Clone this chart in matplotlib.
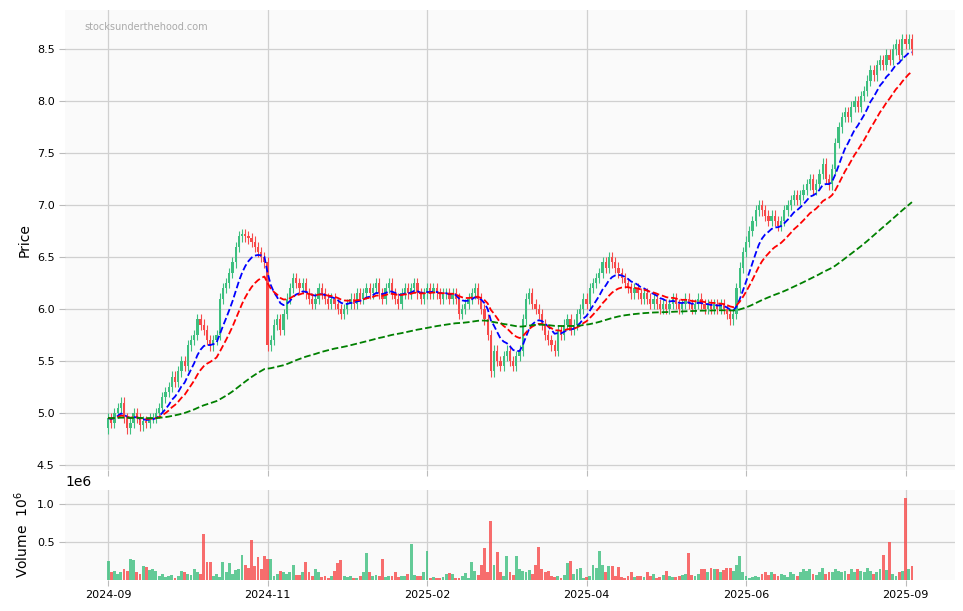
import numpy as np
import pandas as pd
import matplotlib
matplotlib.use("Agg")
import matplotlib.pyplot as plt

closes = [
4.95,4.90,5.00,5.05,5.10,4.95,4.85,4.90,5.00,4.95,
4.88,4.92,4.90,4.95,4.95,5.00,5.05,5.15,5.20,5.25,
5.35,5.30,5.40,5.50,5.45,5.65,5.70,5.75,5.90,5.85,
5.80,5.70,5.65,5.70,5.75,6.10,6.20,6.25,6.35,6.45,
6.60,6.70,6.72,6.70,6.68,6.65,6.60,6.55,6.50,6.45,
5.65,5.70,5.85,5.90,5.80,5.95,6.10,6.20,6.30,6.25,
6.20,6.25,6.15,6.10,6.05,6.10,6.20,6.15,6.10,6.05,
6.10,6.05,6.00,5.95,6.00,6.05,6.10,6.05,6.15,6.10,
6.15,6.20,6.15,6.20,6.25,6.15,6.10,6.20,6.25,6.15,
6.10,6.05,6.15,6.20,6.15,6.20,6.25,6.15,6.10,6.15,
6.20,6.15,6.20,6.15,6.10,6.15,6.15,6.10,6.15,6.10,
5.95,6.00,6.05,6.10,6.15,6.20,6.10,6.00,5.90,5.75,
5.40,5.60,5.50,5.45,5.55,5.60,5.50,5.45,5.55,5.60,
5.90,6.10,6.15,6.05,6.00,5.95,5.85,5.75,5.70,5.65,
5.60,5.80,5.75,5.85,5.90,5.80,5.85,5.95,6.00,6.10,
6.05,6.20,6.25,6.30,6.35,6.45,6.40,6.50,6.45,6.40,
6.35,6.30,6.25,6.20,6.15,6.20,6.15,6.10,6.15,6.10,
6.05,6.10,6.05,6.00,6.05,6.00,6.05,6.10,6.05,6.00,
6.05,6.10,6.05,6.00,6.05,6.10,6.05,6.00,6.05,6.00,
6.05,6.00,6.05,6.00,5.95,5.90,5.95,6.20,6.40,6.55,
6.65,6.75,6.85,6.95,7.00,6.95,6.90,6.85,6.90,6.85,
6.80,6.85,6.95,7.00,7.05,7.10,7.05,7.10,7.15,7.20,
7.25,7.15,7.20,7.30,7.40,7.25,7.20,7.35,7.60,7.75,
7.85,7.90,7.85,7.95,8.00,7.95,8.05,8.10,8.20,8.30,
8.25,8.35,8.40,8.35,8.45,8.40,8.50,8.55,8.45,8.60,
8.55,8.60,8.50]
first_open = 4.85

volumes = [
0.25,0.10,0.12,0.08,0.10,0.15,0.12,0.27,0.26,0.10,
0.08,0.18,0.17,0.13,0.14,0.12,0.05,0.08,0.04,0.05,
0.06,0.03,0.05,0.12,0.10,0.08,0.06,0.15,0.10,0.08,
0.60,0.24,0.23,0.05,0.08,0.04,0.24,0.10,0.22,0.08,
0.13,0.15,0.33,0.20,0.16,0.52,0.18,0.30,0.15,0.31,
0.27,0.27,0.05,0.08,0.12,0.10,0.08,0.10,0.20,0.07,
0.06,0.10,0.23,0.10,0.05,0.15,0.10,0.04,0.05,0.03,
0.05,0.12,0.22,0.26,0.05,0.04,0.05,0.03,0.02,0.05,
0.10,0.35,0.10,0.05,0.06,0.05,0.27,0.04,0.05,0.05,
0.10,0.04,0.05,0.05,0.08,0.47,0.06,0.05,0.05,0.10,
0.38,0.03,0.04,0.03,0.02,0.04,0.08,0.09,0.08,0.03,
0.02,0.05,0.09,0.03,0.23,0.12,0.07,0.20,0.42,0.10,
0.78,0.20,0.37,0.10,0.05,0.32,0.10,0.06,0.32,0.15,
0.12,0.10,0.13,0.08,0.20,0.43,0.15,0.10,0.12,0.05,
0.04,0.05,0.03,0.06,0.22,0.25,0.08,0.15,0.16,0.03,
0.04,0.05,0.20,0.16,0.38,0.20,0.10,0.18,0.19,0.05,
0.17,0.04,0.03,0.05,0.10,0.04,0.05,0.05,0.04,0.10,
0.05,0.08,0.03,0.04,0.06,0.12,0.05,0.04,0.04,0.05,
0.06,0.08,0.35,0.06,0.05,0.08,0.15,0.14,0.10,0.16,
0.14,0.15,0.10,0.13,0.16,0.16,0.12,0.20,0.31,0.10,
0.05,0.02,0.04,0.05,0.04,0.08,0.10,0.06,0.10,0.08,
0.05,0.08,0.06,0.04,0.10,0.08,0.05,0.10,0.15,0.12,
0.15,0.08,0.06,0.10,0.16,0.08,0.10,0.10,0.15,0.12,
0.10,0.12,0.08,0.15,0.10,0.14,0.12,0.10,0.16,0.12,
0.08,0.10,0.15,0.33,0.13,0.50,0.08,0.05,0.10,0.12,
1.07,0.15,0.18]

tick_pos = [0, 50, 100, 150, 200, 250]
tick_labels = ["2024-09", "2024-11", "2025-02", "2025-04", "2025-06", "2025-09"]

c = np.array(closes)
o = np.concatenate([[first_open], c[:-1]])
hi = np.maximum(o, c) + 0.05
lo = np.minimum(o, c) - 0.05
x = np.arange(len(c))
s = pd.Series(c)
ma_fast = s.ewm(span=10, adjust=False).mean()
ma_mid = s.ewm(span=20, adjust=False).mean()
ma_slow = s.ewm(span=120, adjust=False).mean()

GREEN = "#3dbf7f"
RED = "#f74a4a"
up = c >= o
cols = np.where(up, GREEN, RED)

fig = plt.figure(figsize=(9.63, 6.11), dpi=100)
ax = fig.add_axes([65/963, 1-470/611, 890/963, 460/611])
axv = fig.add_axes([65/963, 1-580/611, 890/963, 90/611], sharex=ax)
for a in (ax, axv):
    a.set_facecolor("#fafafa")
    for sp in a.spines.values():
        sp.set_visible(False)
    a.grid(True, color="#d0d0d0", linewidth=0.9)
    a.set_axisbelow(True)
    a.tick_params(length=4, color="#bbbbbb", labelsize=8)

ax.vlines(x, lo, hi, colors=cols, linewidth=0.8)
ax.bar(x, np.abs(c - o), bottom=np.minimum(o, c), width=0.7, color=cols)
ax.plot(x, ma_fast, "--", color="blue", linewidth=1.3)
ax.plot(x, ma_mid, "--", color="red", linewidth=1.3)
ax.plot(x, ma_slow, "--", color="green", linewidth=1.3)
ax.set_ylim(4.45, 8.88)
ax.set_yticks([4.5, 5.0, 5.5, 6.0, 6.5, 7.0, 7.5, 8.0, 8.5])
ax.set_ylabel("Price", fontsize=10)
ax.text(0.022, 0.975, "stocksunderthehood.com", transform=ax.transAxes,
        fontsize=7, color="#aaaaaa", va="top")
plt.setp(ax.get_xticklabels(), visible=False)

axv.bar(x, np.array(volumes) * 1e6, width=0.9, color=cols, alpha=0.8)
axv.set_ylim(0, 1.18e6)
axv.set_yticks([0.5e6, 1.0e6])
axv.set_ylabel("Volume  $10^{6}$", fontsize=10)
axv.set_xticks(tick_pos)
axv.set_xticklabels(tick_labels)
axv.set_xlim(-13.5, 265.5)

fig.savefig("out.png", dpi=100)
